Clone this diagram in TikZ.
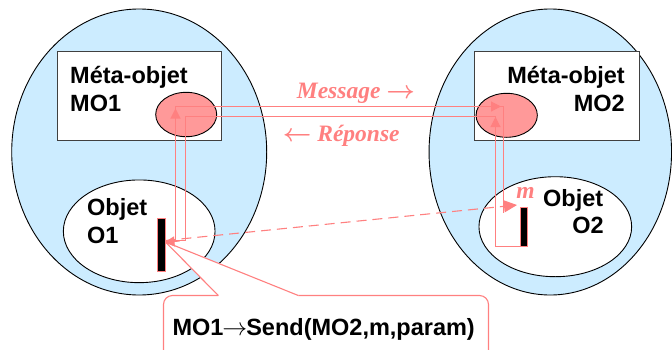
\documentclass[tikz,border=0pt]{standalone}
\usepackage{amsmath}
\usepackage{fontspec}
\setmainfont{Liberation Serif}
\setsansfont{Liberation Sans}
\usetikzlibrary{shapes.geometric,arrows.meta}
\definecolor{skyfill}{HTML}{CCECFF}
\definecolor{pinkline}{HTML}{FF8080}
\definecolor{pinkfill}{HTML}{FF9999}
\definecolor{rectline}{HTML}{404040}
\tikzset{
  bigell/.style={ellipse,draw=black,line width=0.9pt,fill=skyfill,inner sep=0pt},
  objell/.style={ellipse,draw=black,line width=0.9pt,fill=white,inner sep=0pt},
  pinkell/.style={ellipse,draw=black,line width=0.9pt,fill=pinkfill,inner sep=0pt},
  metabox/.style={draw=rectline,line width=1.3pt,fill=white},
  barbox/.style={draw=pinkline,line width=0.6pt,fill=black,inner sep=0pt},
  conn/.style={draw=pinkline,line width=1.1pt},
  tip/.style={conn,-{Triangle[length=10pt,width=10pt]}},
  dashconn/.style={conn,dash pattern=on 10pt off 6pt},
  lbl/.style={font=\sffamily\bfseries\fontsize{23.5}{28}\selectfont,inner sep=0pt},
  msg/.style={font=\rmfamily\bfseries\itshape\fontsize{23.5}{28}\selectfont,text=pinkline,inner sep=0pt},
}
\begin{document}
\begin{tikzpicture}[x=1pt,y=-1pt]
\useasboundingbox (0,0) rectangle (672,349);
\clip (0,0) rectangle (672,349);
% big ellipses
\node[bigell,minimum width=255pt,minimum height=286pt] (m1) at (139.2,152) {};
\node[bigell,minimum width=242.5pt,minimum height=286pt] (m2) at (550.3,152) {};
% meta boxes
\draw[metabox] (57.5,51.5) rectangle (221.5,140.5);
\node[inner sep=0pt] (r1) at (139.5,95.8) {};
\draw[metabox] (474.5,51.5) rectangle (639.5,140.5);
\node[inner sep=0pt] (r2) at (556.6,95.8) {};
% object ellipses
\node[objell,minimum width=151.7pt,minimum height=102.7pt] (ob1) at (139.2,231.3) {};
\node[objell,minimum width=152.7pt,minimum height=100pt] (ob2) at (555.3,226.7) {};
% pink meta ellipses
\node[pinkell,minimum width=61pt,minimum height=44.4pt] (pk1) at (186.2,114.5) {};
\node[pinkell,minimum width=61.3pt,minimum height=44pt] (pk2) at (506.7,115.3) {};
% route coordinates
\coordinate (s1) at (165.5,240.5);
\coordinate (u1) at (175.5,240.5);
\coordinate (u2) at (175.5,106.5);
\coordinate (u3) at (503.5,106.5);
\coordinate (u4) at (503.5,213);
\coordinate (w1) at (520,246.5);
\coordinate (w2) at (495.5,246.5);
\coordinate (w3) at (495.5,116.5);
\coordinate (w4) at (185.5,116.5);
\coordinate (w5) at (185.5,240.5);
% callout (white filled, over the ellipses)
\coordinate (ctip) at (165.5,242);
\coordinate (cb1) at (218.3,295.5);
\coordinate (cb2) at (298.3,295.5);
\fill[white] (ctip) -- (cb2) -- (488.5,295.5) -- (488.5,360) -- (163.5,360) -- (163.5,295.5) -- (cb1) -- cycle;
\draw[conn,rounded corners=9pt] (cb2) -- (488.5,295.5) -- (488.5,360);
\draw[conn,rounded corners=9pt] (cb1) -- (163.5,295.5) -- (163.5,360);
\draw[conn] (cb1) -- (ctip) -- (cb2);
% message route
\draw[conn] (s1) -- (u1) -- (u2) -- (u3) -- (u4);
\draw[tip] (u2) ++(0,24) -- ++(0,-22);
\draw[tip] (u3) ++(-22,0) -- ++(19.5,0);
% reply route
\draw[conn] (w1) -- (w2) -- (w3) -- (w4) -- (w5) -- (s1);
\draw[tip] (w3) ++(0,24) -- ++(0,-23.5);
\draw[tip] (w5) ++(-6,0.5) -- (164.5,242.3);
% dashed call
\draw[dashconn,-{Triangle[length=13pt,width=12pt]}] (s1) -- (517,205);
% bars
\node[barbox,minimum width=8.4pt,minimum height=52.7pt] (bar1) at (161.5,244.7) {};
\node[barbox,minimum width=7.7pt,minimum height=39.4pt] (bar2) at (523.85,227) {};
% texts
\node[lbl,anchor=base west] (t1) at (70,83.3) {Méta-objet};
\node[lbl,anchor=base west] (t2) at (70,111.7) {MO1};
\node[lbl,anchor=base east] (t3) at (625,83.3) {Méta-objet};
\node[lbl,anchor=base east] (t4) at (625,111.7) {MO2};
\node[lbl,anchor=base west] (t5) at (87,215) {Objet};
\node[lbl,anchor=base west] (t6) at (87,243) {O1};
\node[lbl,anchor=base west] (t7) at (543,206) {Objet};
\node[lbl,anchor=base east] (t8) at (604,233) {O2};
\node[msg,anchor=base] (mm) at (525.5,198) {m};
\node[msg,anchor=base west] (msgt) at (296.7,98) {Message $\boldsymbol{\rightarrow}$};
\node[msg,anchor=base west] (rept) at (282.7,141.7) {$\boldsymbol{\leftarrow}$ Réponse};
\node[lbl,anchor=base west] (call) at (172.3,335) {MO1\kern-1pt$\rightarrow$\kern-1pt Send(MO2,m,param)};
\end{tikzpicture}
\end{document}
